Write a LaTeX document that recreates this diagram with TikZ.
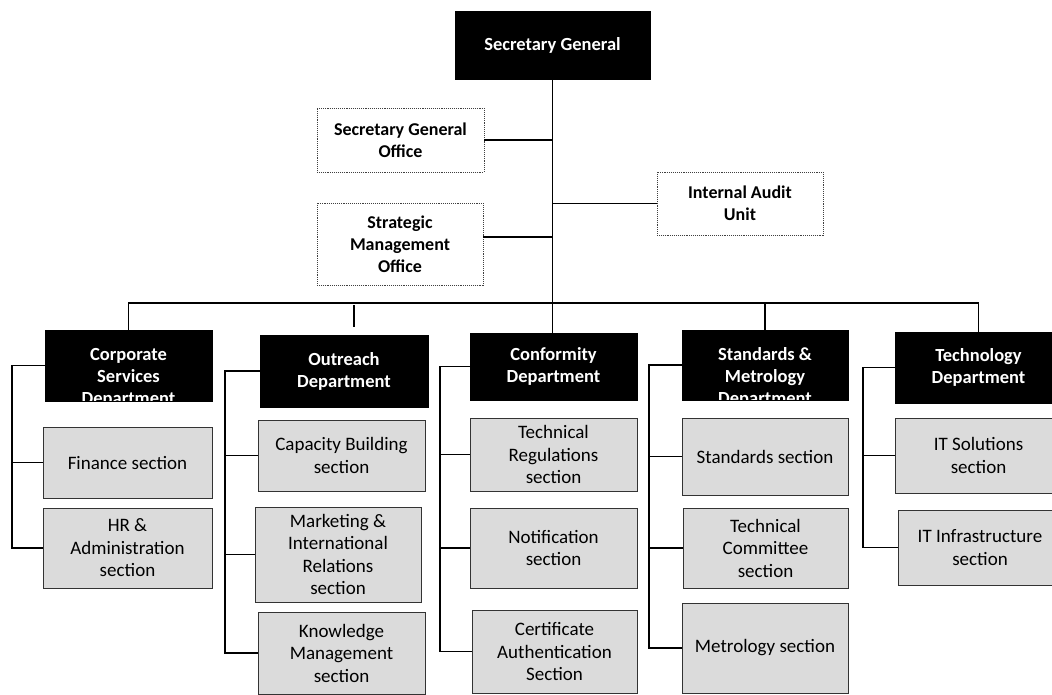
\documentclass[tikz,border=0pt]{standalone}
\usepackage{fontspec}
\setmainfont{Carlito}
\begin{document}
\begin{tikzpicture}[x=1pt,y=-1pt,
  topbox/.style={draw=black!75, densely dotted, line width=0.9pt, fill=white,
    font=\bfseries\fontsize{18}{22}\selectfont, align=center, inner sep=0pt},
  darkbox/.style={fill=black, draw=black, text=white,
    font=\bfseries\fontsize{18.5}{22}\selectfont, align=center, inner sep=0pt},
  secbox/.style={fill=black!14, draw=black!80, line width=1pt,
    font=\fontsize{19}{22.5}\selectfont, align=center, inner sep=0pt},
  link/.style={draw=black, line width=1.8pt},
  cliptext/.style={path picture={\node[text=white, font=\bfseries\fontsize{18.5}{22}\selectfont, align=center]
      at ([yshift=-12pt]path picture bounding box.center) {#1};}}
]
\useasboundingbox (0,0) rectangle (1052,694);
\clip (0,0) rectangle (1052,694);

% top level
\node[darkbox, minimum width=195pt, minimum height=68pt] (sg) at (552.5,45) {Secretary General};
\node[topbox, minimum width=167pt, minimum height=64pt] (sgo) at (400.5,140) {Secretary General\\Office};
\node[topbox, minimum width=166pt, minimum height=82pt] (smo) at (400,244) {Strategic\\Management\\Office};
\node[topbox, minimum width=166pt, minimum height=63pt] (iau) at (740,203.5) {Internal Audit\\Unit};

% departments
\node[darkbox, minimum width=167pt, minimum height=71pt, cliptext={Corporate\\Services\\Department}] (corp) at (128.5,365.5) {};
\node[darkbox, minimum width=168pt, minimum height=72pt] (outr) at (344,371) {Outreach\\Department};
\node[darkbox, minimum width=167pt, minimum height=67pt] (conf) at (553.5,366.5) {Conformity\\Department};
\node[darkbox, minimum width=166pt, minimum height=70pt, cliptext={Standards \&\\Metrology\\Department}] (sm) at (765,365) {};
\node[darkbox, minimum width=167pt, minimum height=71pt] (tech) at (978.5,367.5) {Technology\\Department};

% sections
\node[secbox, minimum width=169pt, minimum height=71pt] (fin) at (127.5,462.5) {Finance section};
\node[secbox, minimum width=169pt, minimum height=80pt] (hr) at (127.5,548) {HR \&\\Administration\\section};

\node[secbox, minimum width=167pt, minimum height=71pt] (cap) at (341.5,455.5) {Capacity Building\\section};
\node[secbox, minimum width=166pt, minimum height=95pt] (mkt) at (338,554.5) {Marketing \&\\International\\Relations\\section};
\node[secbox, minimum width=167pt, minimum height=82pt] (kno) at (341.5,653) {Knowledge\\Management\\section};

\node[secbox, minimum width=167pt, minimum height=73pt] (treg) at (553.5,454.5) {Technical\\Regulations\\section};
\node[secbox, minimum width=167pt, minimum height=80pt] (noti) at (553.5,548) {Notification\\section};
\node[secbox, minimum width=165pt, minimum height=83pt] (cert) at (554.5,651.5) {Certificate\\Authentication\\Section};

\node[secbox, minimum width=166pt, minimum height=77pt] (std) at (765,456.5) {Standards section};
\node[secbox, minimum width=165pt, minimum height=80pt] (tcom) at (765.5,548) {Technical\\Committee\\section};
\node[secbox, minimum width=166pt, minimum height=90pt] (met) at (765,648) {Metrology section};

\node[secbox, minimum width=167pt, minimum height=75pt] (its) at (978.5,455.5) {IT Solutions\\section};
\node[secbox, minimum width=164pt, minimum height=75pt] (iti) at (980,547.5) {IT Infrastructure\\section};

% trunk and top connectors
\coordinate (bus) at (552,303);
\draw[link] (sg.south) -- (sg.south |- conf.north);
\draw[link] (sgo.east) -- (sgo.east -| sg.south);
\draw[link] (iau.west) -- (iau.west -| sg.south);
\draw[link] ([yshift=7pt]smo.east) -- ([yshift=7pt]smo.east -| sg.south);

% bus
\draw[link] (corp.north) -- (corp.north |- bus) -- (tech.north |- bus) -- (tech.north);
\draw[link] (sm.north) -- (sm.north |- bus);
\draw[link] ([xshift=10pt,yshift=8pt]outr.north) -- ([xshift=10pt,yshift=-2pt]outr.north |- bus);

% spines
\coordinate (s1) at (12,0);
\coordinate (s2) at (225,0);
\coordinate (s3) at (440,0);
\coordinate (s4) at (649,0);
\coordinate (s5) at (863,0);

\draw[link] (corp.west) -| (s1 |- hr.west) -- (hr.west);
\draw[link] (fin.west) -- (fin.west -| s1);

\draw[link] (outr.west) -| (s2 |- kno.west) -- (kno.west);
\draw[link] (cap.west) -- (cap.west -| s2);
\draw[link] (mkt.west) -- (mkt.west -| s2);

\draw[link] (conf.west) -| (s3 |- cert.west) -- (cert.west);
\draw[link] (treg.west) -- (treg.west -| s3);
\draw[link] (noti.west) -- (noti.west -| s3);

\draw[link] (sm.west) -| (s4 |- met.west) -- (met.west);
\draw[link] (std.west) -- (std.west -| s4);
\draw[link] (tcom.west) -- (tcom.west -| s4);

\draw[link] (tech.west) -| (s5 |- iti.west) -- (iti.west);
\draw[link] (its.west) -- (its.west -| s5);
\end{tikzpicture}
\end{document}
